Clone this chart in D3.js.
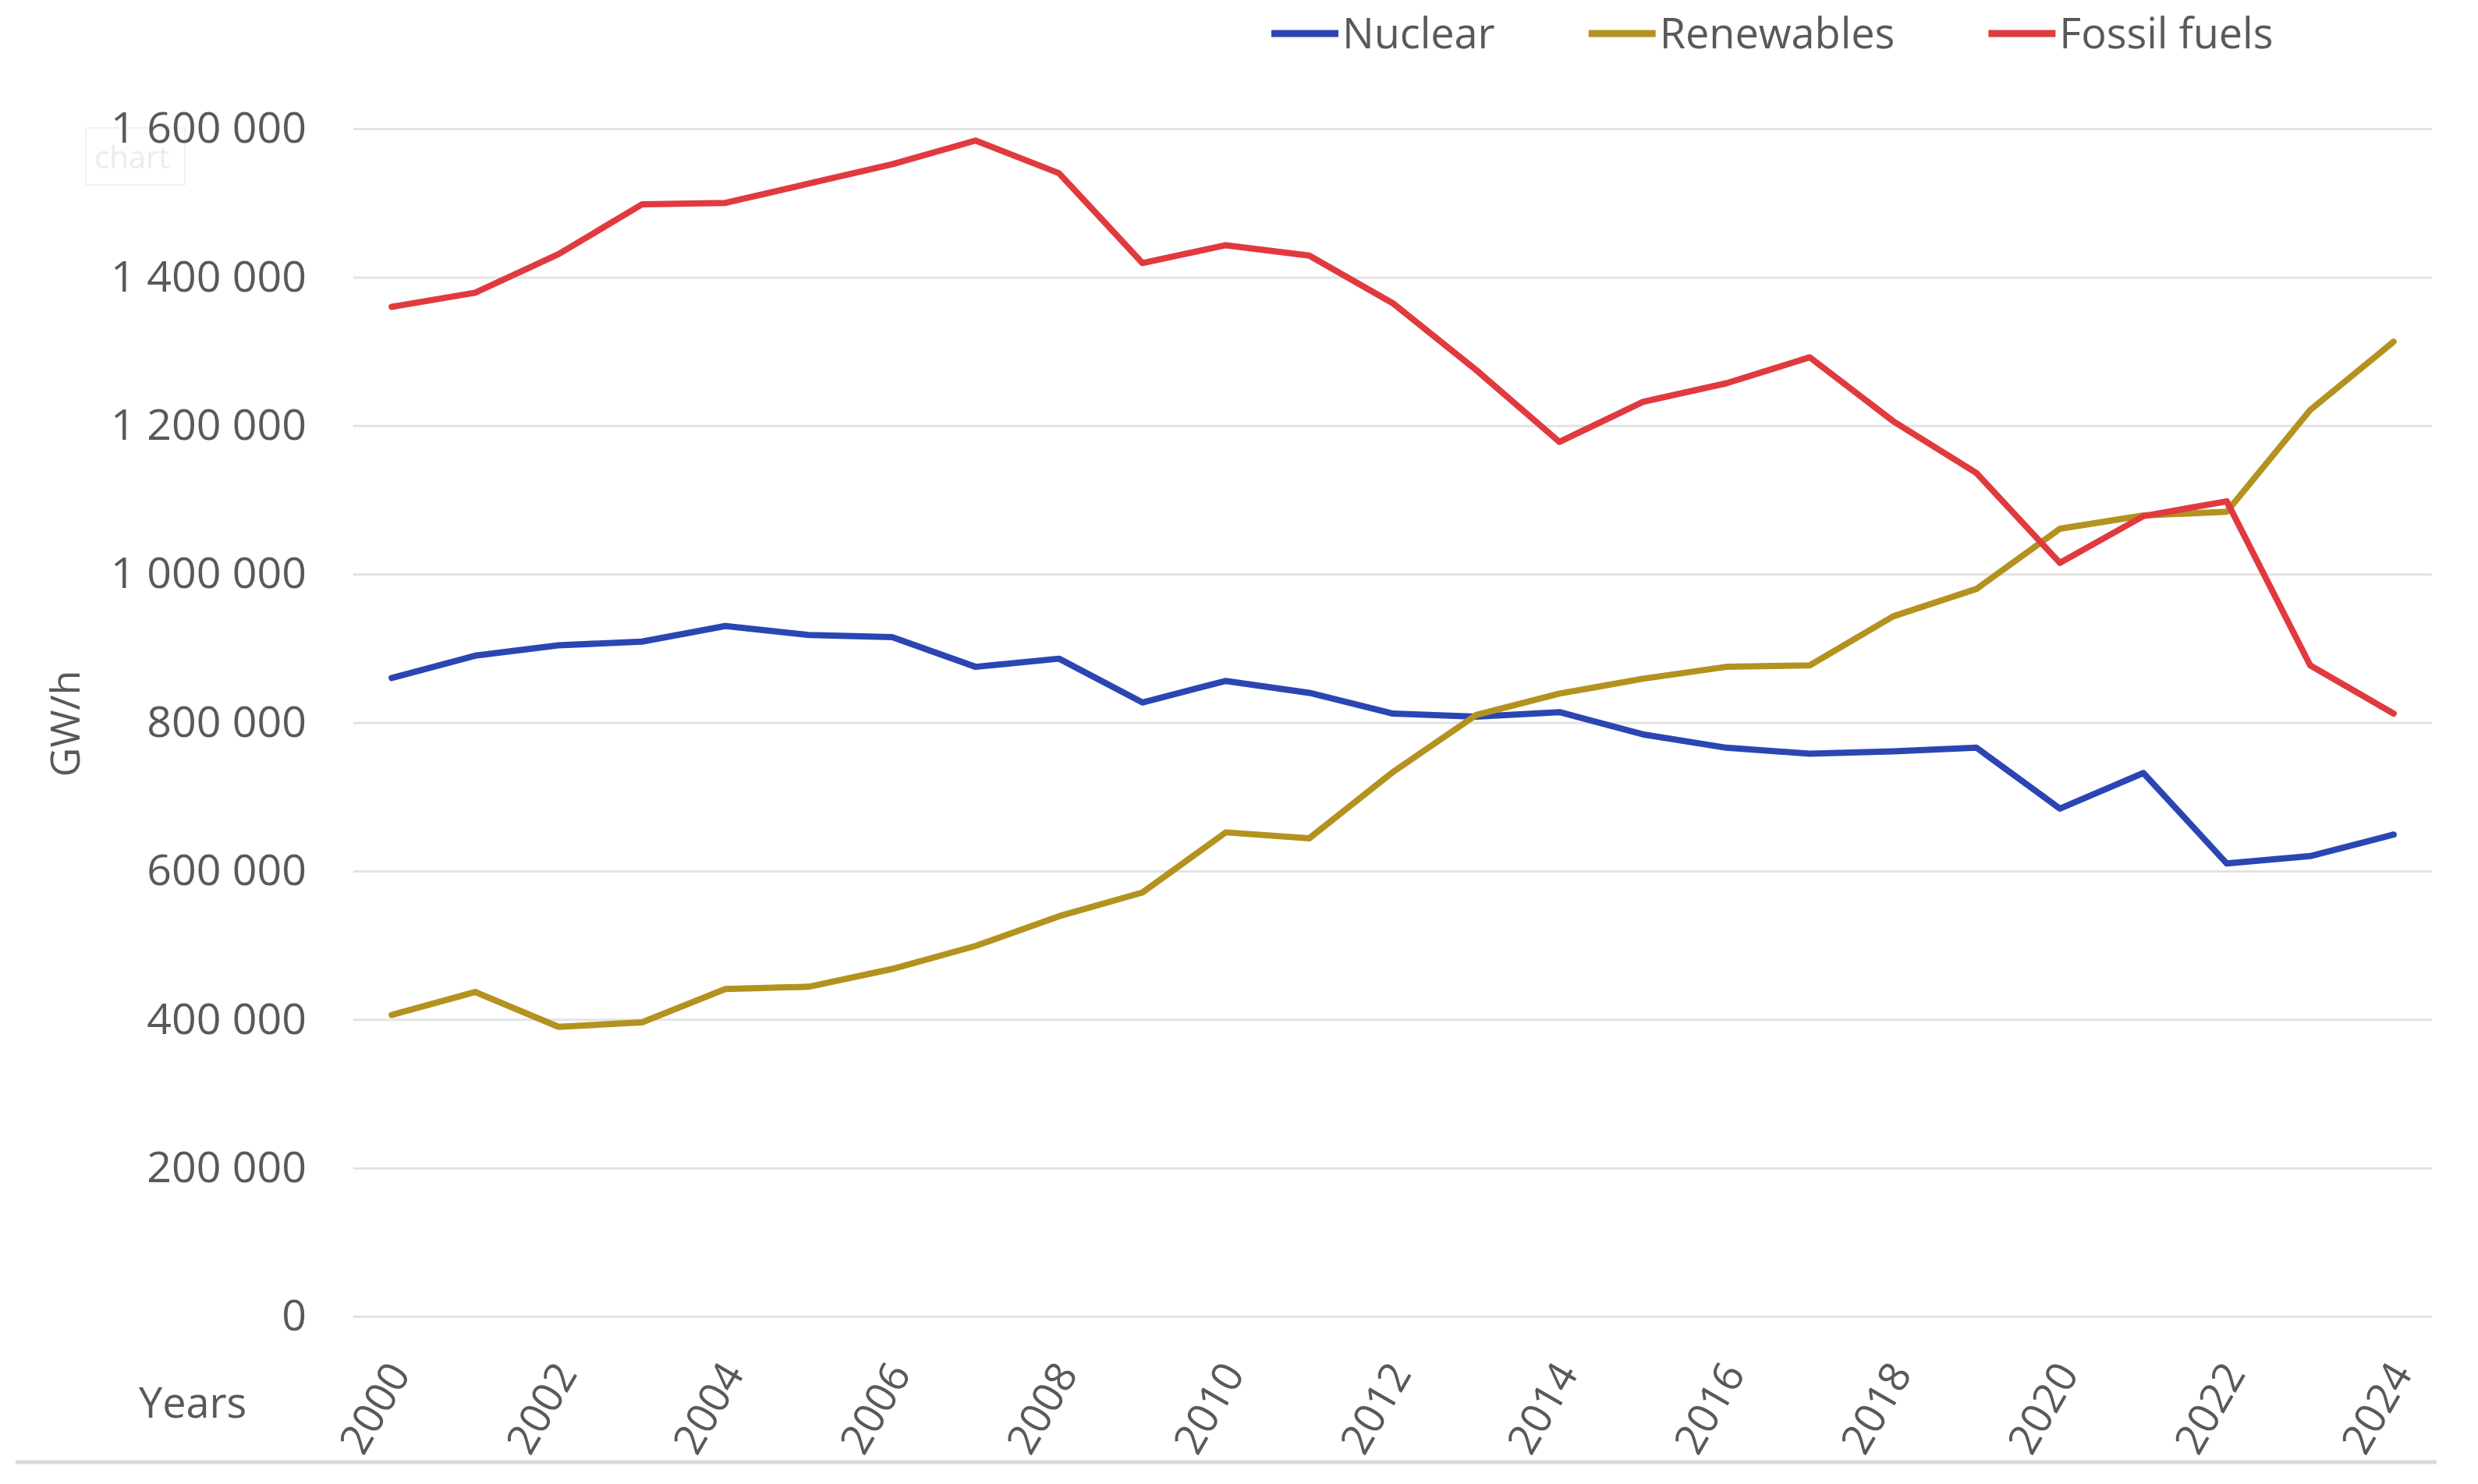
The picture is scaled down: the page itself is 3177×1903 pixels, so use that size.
<!DOCTYPE html>
<html>
<head>
<meta charset="utf-8">
<script src="https://cdn.jsdelivr.net/npm/d3@7"></script>
<style>
  body { margin: 0; background: #fff; }
  svg { display: block; font-family: "Open Sans", sans-serif; }
  .axis text { fill: #595959; }
  .axis path { display: none; }
</style>
</head>
<body>
<svg id="chart"></svg>
<script>
// Data (GW/h per year)
const years = [2000, 2001, 2002, 2003, 2004, 2005, 2006, 2007, 2008, 2009, 2010, 2011, 2012,
  2013, 2014, 2015, 2016, 2017, 2018, 2019, 2020, 2021, 2022, 2023, 2024];
const nuclear = [860000, 890000, 904000, 909000, 930000, 918000, 915000, 875000, 886000, 827000,
  856000, 840000, 812000, 808000, 814000, 784000, 766000, 758000, 761000, 766000,
  684000, 732000, 610000, 620000, 649000];
const renewables = [406000, 437000, 390000, 396000, 441000, 444000, 468000, 499000, 539000, 571000,
  652000, 644000, 733000, 810000, 839000, 859000, 875000, 877000, 943000, 980000,
  1061000, 1079000, 1084000, 1221000, 1313000];
const fossilFuels = [1360000, 1379000, 1431000, 1498000, 1500000, 1526000, 1552000, 1584000, 1540000, 1419000,
  1443000, 1429000, 1365000, 1275000, 1178000, 1232000, 1257000, 1292000, 1206000, 1136000,
  1015000, 1078000, 1098000, 877000, 812000];
const seriesNames = ['Nuclear', 'Renewables', 'Fossil fuels'];
const seriesColors = ['#2b46b2', '#b3921f', '#e03a3f'];
const yTicks = [0, 200000, 400000, 600000, 800000, 1000000, 1200000, 1400000, 1600000];
const xTickYears = [2000, 2002, 2004, 2006, 2008, 2010, 2012, 2014, 2016, 2018, 2020, 2022, 2024];

class LineChart {
  constructor(_config, _data) {
    this.config = {
      parentElement: _config.parentElement,
      containerWidth: _config.containerWidth || 3177,
      containerHeight: _config.containerHeight || 1903,
      margin: _config.margin || {top: 165, right: 59, bottom: 215, left: 453},
      fontSize: 54
    };
    this.data = _data;
    this.initVis();
  }

  initVis() {
    let vis = this;
    const m = vis.config.margin;
    vis.width = vis.config.containerWidth - m.left - m.right;
    vis.height = vis.config.containerHeight - m.top - m.bottom;

    vis.xScale = d3.scalePoint()
        .domain(years)
        .range([0, vis.width])
        .padding(0.46);

    vis.yScale = d3.scaleLinear()
        .domain([0, 1600000])
        .range([vis.height, 0]);

    const locale = d3.formatLocale({decimal: ',', thousands: '\u00a0', grouping: [3], currency: ['', '']});

    vis.yAxis = d3.axisLeft(vis.yScale)
        .tickValues(yTicks)
        .tickSize(-vis.width)
        .tickPadding(60)
        .tickFormat(locale.format(','));

    vis.svg = d3.select(vis.config.parentElement)
        .attr('width', vis.config.containerWidth)
        .attr('height', vis.config.containerHeight);

    vis.svg.append('rect')
        .attr('width', vis.config.containerWidth)
        .attr('height', vis.config.containerHeight)
        .attr('fill', '#fff');

    // faint leftover "chart" box in the top left corner
    vis.svg.append('rect')
        .attr('x', 110).attr('y', 164)
        .attr('width', 127).attr('height', 73)
        .attr('fill', '#fff')
        .attr('stroke', '#f3f3f3')
        .attr('stroke-width', 2);
    vis.svg.append('text')
        .attr('x', 121).attr('y', 216)
        .attr('font-size', 40)
        .attr('fill', '#ececec')
        .text('chart');

    vis.chart = vis.svg.append('g')
        .attr('transform', `translate(${m.left},${m.top})`);

    vis.yAxisG = vis.chart.append('g')
        .attr('class', 'axis y-axis');

    vis.xLabelsG = vis.chart.append('g')
        .attr('class', 'axis x-axis');

    // Axis titles
    vis.svg.append('text')
        .attr('transform', `translate(84,928) rotate(-90)`)
        .attr('text-anchor', 'middle')
        .attr('dy', '0.35em')
        .attr('font-size', 52)
        .attr('fill', '#595959')
        .text('GW/h');

    vis.svg.append('text')
        .attr('x', 178)
        .attr('y', 1818)
        .attr('font-size', vis.config.fontSize)
        .attr('fill', '#595959')
        .text('Years');

    // bottom border line
    vis.svg.append('line')
        .attr('x1', 20).attr('x2', 3124)
        .attr('y1', 1875).attr('y2', 1875)
        .attr('stroke', '#dadada')
        .attr('stroke-width', 5);

    vis.legend = vis.svg.append('g')
        .attr('class', 'legend')
        .attr('transform', 'translate(1630,43)');

    vis.line = d3.line()
        .x((d, i) => vis.xScale(years[i]))
        .y(d => vis.yScale(d));

    vis.renderVis();
  }

  renderVis() {
    let vis = this;
    const fs = vis.config.fontSize;

    // d3.axis puts its own font on the group, so override it afterwards
    vis.yAxisG.call(vis.yAxis)
        .attr('font-family', null)
        .attr('font-size', 55.5);
    vis.yAxisG.selectAll('.tick line')
        .attr('stroke', '#e3e3e3')
        .attr('stroke-width', 3);
    vis.yAxisG.selectAll('.tick text')
        .attr('x', -60);

    // rotated year labels
    vis.xLabelsG.selectAll('text')
        .data(xTickYears)
      .join('text')
        .attr('transform', d => `translate(${vis.xScale(d) + 9},${1752 - vis.config.margin.top}) rotate(-60)`)
        .attr('text-anchor', 'end')
        .attr('dy', '0.35em')
        .attr('font-size', fs)
        .text(d => d);

    vis.chart.selectAll('.series-line')
        .data(vis.data)
      .join('path')
        .attr('class', 'series-line')
        .attr('fill', 'none')
        .attr('stroke', (d, i) => seriesColors[i])
        .attr('stroke-width', 8)
        .attr('stroke-linejoin', 'round')
        .attr('stroke-linecap', 'round')
        .attr('d', d => vis.line(d));

    // Legend: swatch + label, laid out by measured text width
    let offset = 0;
    seriesNames.forEach((name, i) => {
      const item = vis.legend.append('g').attr('transform', `translate(${offset},0)`);
      item.append('line')
          .attr('x1', 0).attr('x2', 86)
          .attr('stroke', seriesColors[i])
          .attr('stroke-width', 9);
      const label = item.append('text')
          .attr('x', 91)
          .attr('dy', '0.35em')
          .attr('font-size', fs)
          .attr('fill', '#595959')
          .text(name);
      offset += 91 + label.node().getComputedTextLength() + 120;
    });
  }
}

const chart = new LineChart({parentElement: '#chart'}, [nuclear, renewables, fossilFuels]);
</script>
</body>
</html>
